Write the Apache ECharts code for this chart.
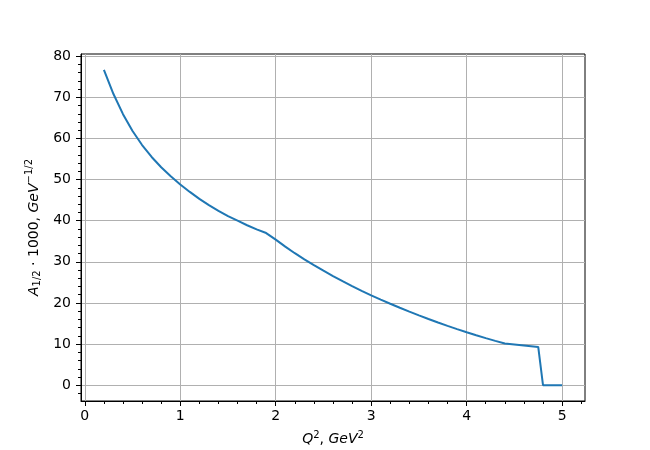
<!DOCTYPE html>
<html>
<head>
<meta charset="utf-8">
<script src="https://cdn.jsdelivr.net/npm/echarts@6/dist/echarts.min.js"></script>
<style>html,body{margin:0;padding:0;background:#fff}#c{width:650px;height:450px}</style>
</head>
<body>
<div id="c"></div>
<script>
var qsq = [0.2,0.3,0.4,0.5,0.6,0.7,0.8,0.9,1.0,1.1,1.2,1.3,1.4,1.5,1.6,1.7,1.8,1.9,
           2.0,2.1,2.2,2.3,2.4,2.5,2.6,2.7,2.8,2.9,3.0,3.1,3.2,3.3,3.4,3.5,3.6,3.7,3.8,3.9,
           4.0,4.1,4.2,4.3,4.4,4.75,4.8,5.0];
var amp = [76.7,70.8,65.9,61.8,58.4,55.5,53.0,50.8,48.8,47.0,45.3,43.8,42.4,41.1,40.0,38.9,37.9,37.0,
           35.4,33.7,32.1,30.6,29.2,27.85,26.55,25.3,24.1,22.95,21.85,20.8,19.8,18.83,17.89,16.98,16.1,15.25,14.43,13.64,
           12.88,12.15,11.45,10.78,10.14,9.3,0,0];
var xMajor = [0,1,2,3,4,5];
var xMinor = [0.2,0.4,0.6,0.8,1.2,1.4,1.6,1.8,2.2,2.4,2.6,2.8,3.2,3.4,3.6,3.8,4.2,4.4,4.6,4.8,5.2];
var yMajor = [0,10,20,30,40,50,60,70,80];
var yMinor = [-2,2,4,6,8,12,14,16,18,22,24,26,28,32,34,36,38,42,44,46,48,52,54,56,58,62,64,66,68,72,74,76,78];

var X_MIN = -0.04, X_MAX = 5.24, Y_MIN = -3.835, Y_MAX = 80.535;
var FONT = 'DejaVu Sans';
var data = qsq.map(function (q, i) { return [q, amp[i]]; });

var chart = echarts.init(document.getElementById('c'), null, {renderer: 'canvas'});
var baseAxis = function (extra) {
  return Object.assign({
    type: 'value',
    axisLine: {show: true, onZero: false, lineStyle: {color: '#000', width: 1}},
    splitLine: {show: false},
    axisLabel: {show: false},
    axisTick: {show: false}
  }, extra);
};
chart.setOption({
  animation: false,
  backgroundColor: '#fff',
  grid: {left: 81, top: 54, width: 504, height: 347, show: true, borderColor: '#000', borderWidth: 1,
         backgroundColor: 'transparent', containLabel: false, outerBoundsMode: 'none'},
  xAxis: [
    baseAxis({
      min: X_MIN, max: X_MAX, position: 'bottom',
      axisTick: {show: true, inside: false, length: 5, lineStyle: {color: '#000', width: 1}, customValues: xMajor},
      axisLabel: {show: true, margin: 8, color: '#000', fontFamily: FONT, fontSize: 14, customValues: xMajor,
                  formatter: function (v) { return String(v); }},
      splitLine: {show: true, lineStyle: {color: '#b0b0b0', width: 1}},
      name: '{i|Q}{sup|2}{n|, }{i|GeV}{sup|2}',
      nameLocation: 'middle', nameGap: 29,
      nameTextStyle: {color: '#000', fontFamily: FONT, fontSize: 14,
        rich: {
          i: {fontFamily: FONT, fontStyle: 'italic', fontSize: 14, color: '#000'},
          n: {fontFamily: FONT, fontSize: 14, color: '#000'},
          sup: {fontFamily: FONT, fontSize: 10, color: '#000', padding: [0, 0, 9, 0]}
        }}
    }),
    baseAxis({
      min: X_MIN, max: X_MAX, position: 'bottom',
      axisLine: {show: false, onZero: false},
      axisTick: {show: true, inside: false, length: 3, lineStyle: {color: '#000', width: 1}, customValues: xMinor}
    })
  ],
  yAxis: [
    baseAxis({
      min: Y_MIN, max: Y_MAX, position: 'left',
      axisTick: {show: true, inside: false, length: 5, lineStyle: {color: '#000', width: 1}, customValues: yMajor},
      axisLabel: {show: true, margin: 10, color: '#000', fontFamily: FONT, fontSize: 14, customValues: yMajor,
                  formatter: function (v) { return String(v); }},
      splitLine: {show: true, lineStyle: {color: '#b0b0b0', width: 1}},
      name: '{i|A}{sub|1/2}{n| · 1000, }{i|GeV}{sup|−1/2}',
      nameLocation: 'middle', nameGap: 36, nameRotate: 90,
      nameTextStyle: {color: '#000', fontFamily: FONT, fontSize: 14,
        rich: {
          i: {fontFamily: FONT, fontStyle: 'italic', fontSize: 14, color: '#000'},
          n: {fontFamily: FONT, fontSize: 14, color: '#000'},
          sub: {fontFamily: FONT, fontSize: 10, color: '#000', padding: [6, 0, 0, 0]},
          sup: {fontFamily: FONT, fontSize: 10, color: '#000', padding: [0, 0, 9, 0]}
        }}
    }),
    baseAxis({
      min: Y_MIN, max: Y_MAX, position: 'left',
      axisLine: {show: false, onZero: false},
      axisTick: {show: true, inside: false, length: 3, lineStyle: {color: '#000', width: 1}, customValues: yMinor}
    })
  ],
  series: [{
    type: 'line',
    xAxisIndex: 0, yAxisIndex: 0,
    data: data,
    showSymbol: false,
    smooth: false,
    lineStyle: {color: '#1f77b4', width: 2},
    itemStyle: {color: '#1f77b4'},
    z: 3
  }]
});
</script>
</body>
</html>
